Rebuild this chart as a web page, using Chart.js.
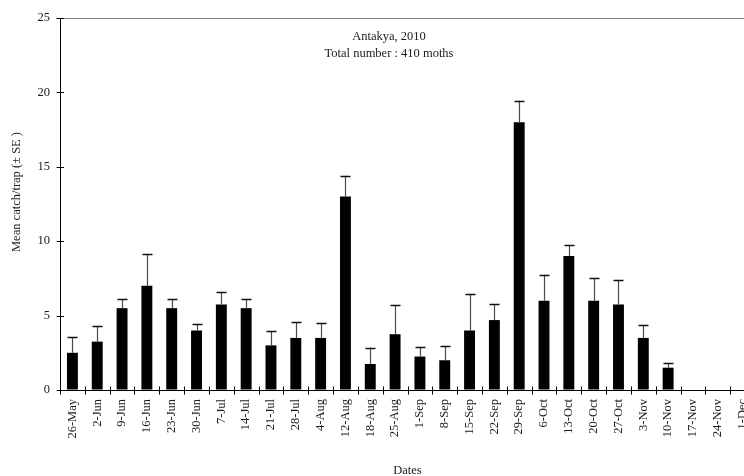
<!DOCTYPE html>
<html>
<head>
<meta charset="utf-8">
<script src="https://cdn.jsdelivr.net/npm/chart.js@4.4.0/dist/chart.umd.min.js"></script>
<style>
  html, body { margin: 0; padding: 0; overflow: hidden; background: #fff; width: 744px; height: 476px; }
  #wrap { width: 760px; height: 476px; }
</style>
</head>
<body>
<div id="wrap"><canvas id="c" width="760" height="476"></canvas></div>
<script>
// Weekly trap dates
const dates = ['26-May','2-Jun','9-Jun','16-Jun','23-Jun','30-Jun','7-Jul','14-Jul','21-Jul','28-Jul',
  '4-Aug','12-Aug','18-Aug','25-Aug','1-Sep','8-Sep','15-Sep','22-Sep','29-Sep','6-Oct',
  '13-Oct','20-Oct','27-Oct','3-Nov','10-Nov','17-Nov','24-Nov','1-Dec'];

// Mean catch per trap
const meanCatch = [2.5, 3.25, 5.5, 7.0, 5.5, 4.0, 5.75, 5.5, 3.0, 3.5,
  3.5, 13.0, 1.75, 3.75, 2.25, 2.0, 4.0, 4.7, 18.0, 6.0,
  9.0, 6.0, 5.75, 3.5, 1.5, 0, 0, 0];

// Standard error of the mean
const stdErr = [1.05, 1.05, 0.6, 2.15, 0.6, 0.45, 0.85, 0.6, 0.95, 1.05,
  1.0, 1.4, 1.1, 1.95, 0.65, 0.95, 2.45, 1.05, 1.45, 1.75,
  0.75, 1.5, 1.65, 0.85, 0.3, 0, 0, 0];

const yTicks = [0, 5, 10, 15, 20, 25];
const titleLines = ['Antakya, 2010', 'Total number : 410 moths'];
const yAxisTitle = 'Mean catch/trap (\u00b1 SE )';
const xAxisTitle = 'Dates';

const SERIF = '"Liberation Serif", "Times New Roman", serif';

// SE whiskers above each bar
const errorBars = {
  id: 'errorBars',
  afterDatasetsDraw(chart) {
    const ctx = chart.ctx;
    const y = chart.scales.y;
    const meta = chart.getDatasetMeta(0);
    ctx.save();
    meta.data.forEach((bar, i) => {
      if (!stdErr[i]) return;
      const x = Math.round(bar.x) + 0.5;
      const yTop = y.getPixelForValue(meanCatch[i]);
      const yErr = y.getPixelForValue(meanCatch[i] + stdErr[i]);
      ctx.strokeStyle = '#4a4a4a';
      ctx.lineWidth = 1.2;
      ctx.beginPath();
      ctx.moveTo(x, yTop);
      ctx.lineTo(x, yErr);
      ctx.stroke();
      ctx.strokeStyle = '#111';
      ctx.lineWidth = 1.5;
      ctx.beginPath();
      ctx.moveTo(x - 5, Math.round(yErr) + 0.5);
      ctx.lineTo(x + 5, Math.round(yErr) + 0.5);
      ctx.stroke();
    });
    ctx.restore();
  }
};

// Tick marks that cross the axis lines, plus chart text
const axisDecor = {
  id: 'axisDecor',
  afterDraw(chart) {
    const ctx = chart.ctx;
    const xs = chart.scales.x, ys = chart.scales.y;
    const axisX = Math.round(xs.left) + 0.5;
    const axisY = Math.round(ys.bottom) + 0.5;
    ctx.save();
    ctx.strokeStyle = '#000';
    ctx.lineWidth = 1;
    ctx.beginPath();
    yTicks.forEach(v => {
      const py = Math.round(ys.getPixelForValue(v)) + 0.5;
      ctx.moveTo(axisX - 4, py);
      ctx.lineTo(axisX + 3.5, py);
    });
    const n = dates.length;
    for (let i = 0; i <= n; i++) {
      const px = Math.round(xs.left + i * (xs.right - xs.left) / n) + 0.5;
      ctx.moveTo(px, axisY - 4);
      ctx.lineTo(px, axisY + 4);
    }
    ctx.stroke();

    ctx.fillStyle = '#1a1a1a';
    ctx.font = '12.5px ' + SERIF;
    ctx.textAlign = 'center';
    ctx.textBaseline = 'alphabetic';
    ctx.fillText(titleLines[0], 389, 40);
    ctx.fillText(titleLines[1], 389, 56.5);

    ctx.translate(17, 192);
    ctx.rotate(-Math.PI / 2);
    ctx.textBaseline = 'middle';
    ctx.fillText(yAxisTitle, 0, 0);
    ctx.restore();
  }
};

new Chart(document.getElementById('c'), {
  type: 'bar',
  data: {
    labels: dates,
    datasets: [{
      data: meanCatch,
      backgroundColor: '#000',
      borderWidth: 0,
      barPercentage: 0.44,
      categoryPercentage: 1.0
    }]
  },
  options: {
    responsive: false,
    animation: false,
    devicePixelRatio: 1,
    layout: { padding: { top: 18, right: 5, bottom: 0, left: 0 } },
    plugins: { legend: { display: false }, tooltip: { enabled: false }, title: { display: false } },
    scales: {
      x: {
        grid: { display: false, drawTicks: false },
        border: { display: true, color: '#000', width: 1 },
        ticks: {
          autoSkip: false, maxRotation: 90, minRotation: 90, padding: 9,
          color: '#1a1a1a', font: { family: SERIF, size: 12.5 }
        },
        title: {
          display: true, text: xAxisTitle, color: '#1a1a1a',
          font: { family: SERIF, size: 12.5, lineHeight: 0.8 },
          padding: { top: 0, bottom: 0 }
        },
        afterFit(scale) {
          scale.height = 86;
          scale.paddingLeft = 0;
          scale.paddingRight = 0;
        }
      },
      y: {
        min: 0, max: 25,
        afterBuildTicks(scale) { scale.ticks = yTicks.map(v => ({ value: v })); },
        grid: {
          drawTicks: false,
          color: ctx => (ctx.tick && ctx.tick.value === 25) ? '#808080' : 'rgba(0,0,0,0)',
          lineWidth: 1
        },
        border: { display: true, color: '#000', width: 1 },
        ticks: { padding: 10, color: '#1a1a1a', font: { family: SERIF, size: 12.5 } },
        afterFit(scale) { scale.width = 60; }
      }
    }
  },
  plugins: [errorBars, axisDecor]
});
</script>
</body>
</html>
